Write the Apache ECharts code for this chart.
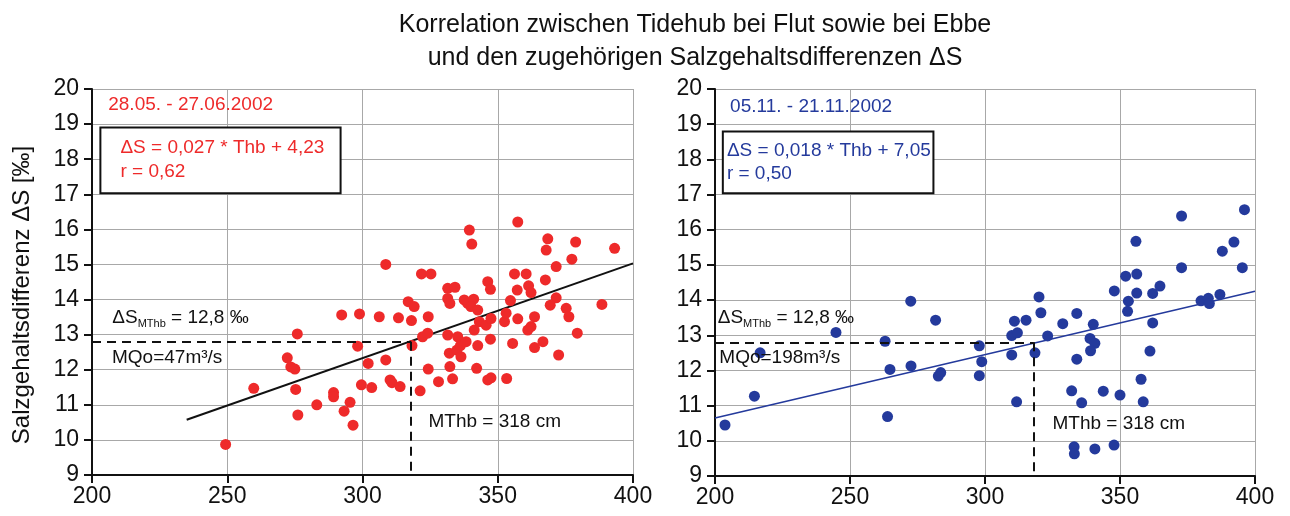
<!DOCTYPE html>
<html>
<head>
<meta charset="utf-8">
<title>Korrelation Tidehub / Salzgehaltsdifferenz</title>
<script src="https://cdn.jsdelivr.net/npm/echarts@6/dist/echarts.min.js"></script>
<style>
  html, body { margin: 0; padding: 0; background: #ffffff; }
  #chart { width: 1290px; height: 516px; }
</style>
</head>
<body>
<div id="chart"></div>
<script>
// Flut period, 28.05. - 27.06.2002: [Tidehub Thb (cm), ΔS (‰)]
const floodPoints = [
  [249.4, 9.87], [259.8, 11.47], [275.9, 13.02], [272.2, 12.34], [273.5, 12.08],
  [275.0, 12.02], [275.3, 11.44], [276.1, 10.71], [283.1, 11.0], [289.3, 11.35],
  [289.3, 11.23], [293.2, 10.82], [295.4, 11.07], [296.5, 10.42], [292.3, 13.56],
  [298.9, 13.59], [298.2, 12.67], [299.6, 11.57], [302.1, 12.18], [303.4, 11.49],
  [308.6, 15.0], [306.2, 13.51], [308.6, 12.28], [310.2, 11.71], [310.9, 11.63],
  [313.9, 11.52], [313.3, 13.48], [318.1, 13.4], [316.9, 13.94], [319.1, 13.8],
  [318.3, 12.69], [321.3, 11.4], [321.8, 14.73], [325.3, 14.73], [324.3, 13.51],
  [322.2, 12.94], [324.1, 13.04], [324.3, 12.02], [328.1, 11.66], [331.5, 14.32],
  [334.2, 14.35], [331.5, 14.03], [332.3, 13.89], [331.5, 12.99], [335.2, 12.94],
  [332.1, 12.47], [334.9, 12.56], [336.4, 12.37], [332.3, 12.09], [333.3, 11.74],
  [336.2, 12.69], [338.3, 12.8], [339.5, 15.98], [340.4, 15.58], [337.6, 13.99],
  [338.9, 13.89], [341.1, 14.01], [340.1, 13.8], [342.6, 13.7], [341.3, 13.13],
  [343.2, 13.37], [342.6, 12.69], [342.2, 12.04], [345.7, 13.27], [346.3, 14.51],
  [347.3, 14.29], [347.5, 13.46], [347.3, 12.87], [346.3, 11.71], [347.5, 11.77],
  [353.3, 11.75], [352.5, 13.37], [353.1, 13.61], [354.7, 13.97], [355.5, 12.75],
  [357.4, 16.21], [356.2, 14.73], [360.5, 14.73], [357.2, 14.27], [357.4, 13.45],
  [361.4, 14.39], [362.3, 14.2], [361.1, 13.13], [362.3, 13.23], [363.6, 13.51],
  [363.6, 12.63], [366.7, 12.8], [367.6, 14.56], [368.5, 15.73], [367.9, 15.41],
  [371.6, 14.94], [371.6, 14.05], [369.4, 13.84], [372.5, 12.42], [375.3, 13.75],
  [376.3, 13.51], [377.4, 15.15], [378.8, 15.64], [379.4, 13.04], [388.5, 13.86],
  [393.2, 15.46]
];

// Ebbe period, 05.11. - 21.11.2002: [Tidehub Thb (cm), ΔS (‰)]
const ebbPoints = [
  [203.7, 10.45], [214.6, 11.27], [216.7, 12.5], [244.8, 13.08], [263.0, 12.83],
  [264.8, 12.03], [263.9, 10.69], [272.5, 13.97], [272.6, 12.13], [281.7, 13.43],
  [282.7, 11.84], [283.6, 11.94], [297.9, 12.7], [298.8, 12.25], [297.9, 11.85],
  [309.9, 12.99], [309.9, 12.44], [310.9, 13.4], [312.0, 13.07], [315.2, 13.43],
  [311.7, 11.11], [318.5, 12.5], [320.0, 14.09], [320.7, 13.64], [323.2, 12.98],
  [328.8, 13.33], [334.0, 13.62], [334.0, 12.32], [332.1, 11.42], [335.8, 11.08],
  [333.0, 9.83], [333.1, 9.63], [340.7, 9.77], [340.1, 13.31], [338.9, 12.91],
  [340.7, 12.77], [339.1, 12.56], [343.8, 11.41], [347.8, 9.88], [350.0, 11.3],
  [347.9, 14.26], [352.1, 14.68], [353.1, 13.97], [352.8, 13.68], [356.2, 14.74],
  [355.9, 15.67], [356.2, 14.2], [357.8, 11.75], [358.6, 11.11], [361.1, 12.55],
  [362.1, 13.35], [362.1, 14.19], [364.8, 14.4], [372.8, 16.39], [372.8, 14.92],
  [380.0, 13.98], [382.7, 14.05], [383.1, 13.9], [387.0, 14.16], [387.9, 15.39],
  [392.2, 15.65], [395.3, 14.92], [396.1, 16.57]
];

// Regression lines ΔS = a * Thb + b, and their drawn Thb ranges
const floodFit = { a: 0.027, b: 4.23, from: 235, to: 400 };
const ebbFit = { a: 0.018, b: 7.05, from: 200, to: 400 };

// Mean tidal range MThb and the corresponding ΔS
const meanThb = 318;
const meanDeltaS = 12.8;

// Axis ranges and tick steps
const xRange = [200, 400];
const xStep = 50;
const yRange = [9, 20];
const yStep = 1;

// Texts
const titleLines = [
  'Korrelation zwischen Tidehub bei Flut sowie bei Ebbe',
  'und den zugehörigen Salzgehaltsdifferenzen ΔS'
];
const yAxisTitle = 'Salzgehaltsdifferenz ΔS [‰]';
const floodPeriod = '28.05. - 27.06.2002';
const ebbPeriod = '05.11. - 21.11.2002';
const floodEquation = ['ΔS = 0,027 * Thb + 4,23', 'r = 0,62'];
const ebbEquation = ['ΔS = 0,018 * Thb + 7,05', 'r = 0,50'];
const floodDischarge = 'MQo=47m³/s';
const ebbDischarge = 'MQo=198m³/s';
const meanDeltaSLabel = ['ΔS', 'MThb', ' = 12,8 ‰'];
const meanThbLabel = 'MThb = 318 cm';

const RED = '#ee2a2a';
const BLUE = '#243a9c';
const FONT = '"Liberation Sans", Arial, sans-serif';
const NOTE_SIZE = 19;

function fitLine(fit) {
  return [[fit.from, fit.a * fit.from + fit.b], [fit.to, fit.a * fit.to + fit.b]];
}

function xAxisCfg(gridIndex) {
  return {
    gridIndex, type: 'value', min: xRange[0], max: xRange[1], interval: xStep,
    axisLine: { onZero: false, lineStyle: { color: '#111', width: 2 } },
    axisTick: { show: true, length: 8, lineStyle: { color: '#111', width: 2 } },
    axisLabel: { color: '#111', fontSize: 23, fontFamily: FONT, margin: 10 },
    splitLine: { show: true, lineStyle: { color: '#a8a8a8', width: 1 } }
  };
}

function yAxisCfg(gridIndex) {
  return {
    gridIndex, type: 'value', min: yRange[0], max: yRange[1], interval: yStep,
    axisLine: { show: true, onZero: false, lineStyle: { color: '#111', width: 2 } },
    axisTick: { show: true, length: 8, lineStyle: { color: '#111', width: 2 } },
    axisLabel: { color: '#111', fontSize: 23, fontFamily: FONT, margin: 13 },
    splitLine: { show: true, lineStyle: { color: '#a8a8a8', width: 1 } }
  };
}

function guideLines() {
  return {
    silent: true,
    symbol: 'none',
    label: { show: false },
    lineStyle: { color: '#111', type: [9, 6], width: 2 },
    data: [
      [{ coord: [xRange[0], meanDeltaS] }, { coord: [meanThb, meanDeltaS] }],
      [{ coord: [meanThb, meanDeltaS] }, { coord: [meanThb, yRange[0]] }]
    ]
  };
}

const chart = echarts.init(document.getElementById('chart'), null, { renderer: 'canvas' });

chart.setOption({
  backgroundColor: '#ffffff',
  animation: false,
  title: {
    text: titleLines.join('\n'),
    left: 690, top: 4, textAlign: 'center',
    textStyle: { fontSize: 25, fontWeight: 'normal', color: '#111', fontFamily: FONT, lineHeight: 33 }
  },
  grid: [
    { left: 92, top: 89, width: 541, height: 386 },
    { left: 715, top: 89, width: 540, height: 387 }
  ],
  xAxis: [xAxisCfg(0), xAxisCfg(1)],
  yAxis: [yAxisCfg(0), yAxisCfg(1)],
  series: [
    {
      type: 'line', xAxisIndex: 0, yAxisIndex: 0, data: fitLine(floodFit),
      symbol: 'none', silent: true, z: 3,
      lineStyle: { color: '#111', width: 2 },
      markLine: guideLines()
    },
    {
      type: 'scatter', xAxisIndex: 0, yAxisIndex: 0, data: floodPoints,
      symbolSize: 11, z: 4, itemStyle: { color: RED, opacity: 1 }
    },
    {
      type: 'line', xAxisIndex: 1, yAxisIndex: 1, data: fitLine(ebbFit),
      symbol: 'none', silent: true, z: 3,
      lineStyle: { color: BLUE, width: 1.6 },
      markLine: guideLines()
    },
    {
      type: 'scatter', xAxisIndex: 1, yAxisIndex: 1, data: ebbPoints,
      symbolSize: 11, z: 4, itemStyle: { color: BLUE, opacity: 1 }
    }
  ]
});

// Annotations anchored in data coordinates of each panel
function px(grid, x, y) {
  return chart.convertToPixel({ gridIndex: grid }, [x, y]);
}

function text(pos, str, color, extra) {
  return Object.assign({
    type: 'text', x: pos[0], y: pos[1], z: 20,
    style: { text: str, fill: color, font: NOTE_SIZE + 'px ' + FONT, verticalAlign: 'middle', align: 'left' }
  }, extra || {});
}

function equationBox(grid, corner1, corner2) {
  const a = px(grid, corner1[0], corner1[1]);
  const b = px(grid, corner2[0], corner2[1]);
  return {
    type: 'rect', z: 15,
    shape: { x: a[0], y: a[1], width: b[0] - a[0], height: b[1] - a[1] },
    style: { fill: '#ffffff', stroke: '#111', lineWidth: 2 }
  };
}

function meanLabel(pos) {
  return {
    type: 'text', x: pos[0], y: pos[1], z: 20,
    style: {
      rich: {
        m: { fontSize: NOTE_SIZE, fontFamily: FONT, fill: '#111' },
        s: { fontSize: 11, fontFamily: FONT, fill: '#111', padding: [11, 0, 0, 0] }
      },
      text: '{m|' + meanDeltaSLabel[0] + '}{s|' + meanDeltaSLabel[1] + '}{m|' + meanDeltaSLabel[2] + '}',
      verticalAlign: 'middle'
    }
  };
}

const yTitlePos = [22, 295];

chart.setOption({
  graphic: [
    {
      type: 'text', x: yTitlePos[0], y: yTitlePos[1], rotation: Math.PI / 2, z: 20,
      style: { text: yAxisTitle, fill: '#111', font: '24px ' + FONT, align: 'center', verticalAlign: 'middle' }
    },
    // Flut panel
    text(px(0, 206, 19.54), floodPeriod, RED),
    equationBox(0, [203.1, 18.9], [291.9, 17.03]),
    text(px(0, 210.5, 18.32), floodEquation[0], RED),
    text(px(0, 210.5, 17.63), floodEquation[1], RED),
    meanLabel(px(0, 207.5, 13.47)),
    text(px(0, 207.4, 12.33), floodDischarge, '#111'),
    text(px(0, 324.4, 10.52), meanThbLabel, '#111'),
    // Ebbe panel
    text(px(1, 205.6, 19.5), ebbPeriod, BLUE),
    equationBox(1, [202.9, 18.79], [280.9, 17.04]),
    text(px(1, 204.4, 18.25), ebbEquation[0], BLUE),
    text(px(1, 204.4, 17.6), ebbEquation[1], BLUE),
    meanLabel(px(1, 201.0, 13.49)),
    text(px(1, 201.6, 12.35), ebbDischarge, '#111'),
    text(px(1, 325, 10.48), meanThbLabel, '#111')
  ]
});
</script>
</body>
</html>
